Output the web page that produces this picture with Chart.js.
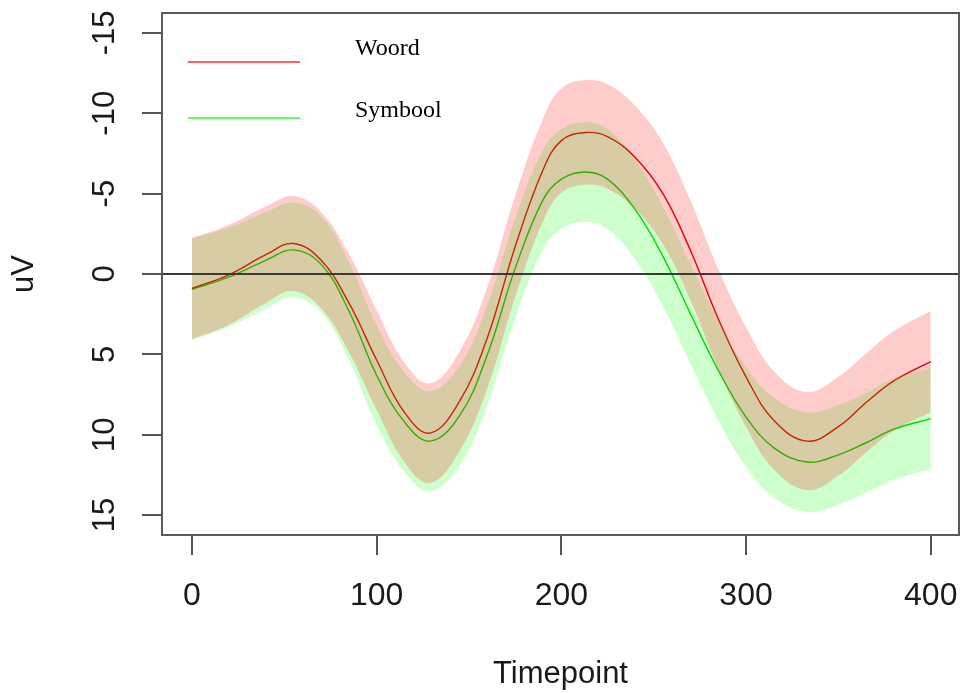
<!DOCTYPE html>
<html>
<head>
<meta charset="utf-8">
<script src="https://cdn.jsdelivr.net/npm/chart.js@4.4.0/dist/chart.umd.min.js"></script>
<style>
  body { margin: 0; background: #fff; }
  canvas { display: block; }
</style>
</head>
<body>
<canvas id="erpChart" width="960" height="693"></canvas>
<script>
// timepoints and values (uV, negative is drawn upwards)
const timepoints = [0, 20, 40, 55, 70, 85, 100, 115, 129, 145, 160, 175, 190, 200, 213, 225, 240, 255, 270, 285, 300, 315, 333, 350, 365, 380, 400];

const woord = [0.9, 0.05, -1.2, -1.9, -0.85, 1.8, 5.35, 8.6, 9.9, 7.9, 3.95, -1.7, -6.45, -8.3, -8.8, -8.55, -7.25, -5.0, -1.45, 2.8, 6.4, 9.1, 10.4, 9.5, 8.0, 6.65, 5.45];
const woordLow = [-2.25, -3.05, -4.2, -4.85, -3.85, -1.25, 2.25, 5.5, 6.8, 4.8, 0.8, -4.85, -9.65, -11.55, -12.05, -11.8, -10.45, -8.15, -4.55, -0.3, 3.3, 6.05, 7.35, 6.4, 4.95, 3.55, 2.3];
const woordHigh = [4.05, 3.15, 1.8, 1.05, 2.15, 4.85, 8.45, 11.7, 13.0, 11.0, 7.1, 1.45, -3.25, -5.05, -5.55, -5.3, -4.05, -1.85, 1.65, 5.9, 9.5, 12.15, 13.45, 12.55, 11.1, 9.75, 8.6];

const symbool = [0.95, 0.2, -0.85, -1.5, -0.6, 2.3, 6.3, 9.2, 10.4, 8.8, 5.0, -0.35, -4.6, -5.9, -6.35, -5.9, -4.0, -1.1, 2.5, 6.0, 8.9, 10.8, 11.7, 11.25, 10.5, 9.65, 9.0];
const symboolLow = [-2.2, -2.9, -3.85, -4.45, -3.6, -0.75, 3.2, 6.1, 7.3, 5.7, 1.9, -3.45, -7.7, -9.0, -9.45, -9.0, -7.1, -4.2, -0.6, 2.9, 5.8, 7.7, 8.6, 8.15, 7.4, 6.5, 5.85];
const symboolHigh = [4.1, 3.3, 2.15, 1.45, 2.4, 5.35, 9.4, 12.3, 13.5, 11.9, 8.1, 2.75, -1.5, -2.8, -3.25, -2.8, -0.9, 2.0, 5.6, 9.1, 12.0, 13.9, 14.8, 14.35, 13.6, 12.8, 12.15];

const xTicks = [0, 100, 200, 300, 400];
const yTicks = [-15, -10, -5, 0, 5, 10, 15];

const pts = arr => arr.map((v, i) => ({ x: timepoints[i], y: v }));

const band = (data, color, order) => ({
    data: pts(data),
    borderWidth: 0,
    pointRadius: 0,
    backgroundColor: color,
    tension: 0.4,
    order: order
});

// zero line, drawn over the bands like abline()
const zeroLine = {
    id: 'zeroLine',
    afterDatasetsDraw(chart) {
        const { ctx, chartArea } = chart;
        const y = chart.scales.y.getPixelForValue(0);
        ctx.save();
        ctx.strokeStyle = '#3a3a3a';
        ctx.lineWidth = 2;
        ctx.beginPath();
        ctx.moveTo(chartArea.left, y);
        ctx.lineTo(chartArea.right, y);
        ctx.stroke();
        ctx.restore();
    }
};

// box around the plot region
const frame = {
    id: 'frame',
    afterDraw(chart) {
        const { ctx, chartArea } = chart;
        ctx.save();
        ctx.strokeStyle = '#5a5a5a';
        ctx.lineWidth = 2;
        ctx.strokeRect(chartArea.left, chartArea.top, chartArea.right - chartArea.left, chartArea.bottom - chartArea.top);
        ctx.restore();
    }
};

// legend: line on the left, name further right
const lineLegend = {
    id: 'lineLegend',
    afterDraw(chart) {
        const ctx = chart.ctx;
        const items = chart.data.datasets.filter(d => d.legend);
        ctx.save();
        ctx.font = '24px "Liberation Serif", serif';
        ctx.fillStyle = '#000';
        ctx.textBaseline = 'alphabetic';
        items.forEach((d, i) => {
            const ly = 62 + i * 56;
            ctx.strokeStyle = d.legend;
            ctx.lineWidth = 1.5;
            ctx.beginPath();
            ctx.moveTo(188, ly);
            ctx.lineTo(300, ly);
            ctx.stroke();
            ctx.fillText(d.label, 355, 55 + i * 62);
        });
        ctx.restore();
    }
};

Chart.defaults.font.family = '"Liberation Sans", Arial, sans-serif';
Chart.defaults.color = '#1a1a1a';

new Chart(document.getElementById('erpChart'), {
    type: 'line',
    data: {
        datasets: [
            { label: 'Woord', legend: '#ff2a2a', data: pts(woord), borderColor: '#e00000', borderWidth: 1.4, pointRadius: 0, fill: false, tension: 0.4, order: 4 },
            { label: 'Symbool', legend: '#2aff2a', data: pts(symbool), borderColor: '#00d000', borderWidth: 1.4, pointRadius: 0, fill: false, tension: 0.4, order: 5 },
            Object.assign(band(symboolLow, 'rgba(0,0,0,0)', 3), { fill: false }),
            Object.assign(band(symboolHigh, 'rgba(0,255,0,0.2)', 3), { fill: '-1' }),
            Object.assign(band(woordLow, 'rgba(0,0,0,0)', 2), { fill: false }),
            Object.assign(band(woordHigh, 'rgba(255,0,0,0.2)', 2), { fill: '-1' })
        ]
    },
    options: {
        responsive: false,
        animation: false,
        devicePixelRatio: 1,
        layout: { padding: { top: 13, right: 1, bottom: 0, left: 0 } },
        plugins: {
            legend: { display: false },
            tooltip: { enabled: false }
        },
        scales: {
            x: {
                type: 'linear',
                min: -16.2,
                max: 415.3,
                afterBuildTicks: axis => { axis.ticks = xTicks.map(v => ({ value: v })); },
                afterFit: axis => { axis.height = 158; axis.paddingLeft = 0; axis.paddingRight = 0; },
                border: { display: false },
                grid: { drawOnChartArea: false, tickLength: 20, tickColor: '#555', lineWidth: 2 },
                ticks: { font: { size: 32 }, padding: 22, maxRotation: 0 },
                title: { display: true, text: 'Timepoint', font: { size: 31 }, padding: { top: 0, bottom: 0 } }
            },
            y: {
                type: 'linear',
                reverse: true,
                min: -16.24,
                max: 16.24,
                afterBuildTicks: axis => { axis.ticks = yTicks.map(v => ({ value: v })); },
                afterFit: axis => { axis.width = 162; axis.paddingTop = 0; axis.paddingBottom = 0; },
                border: { display: false },
                grid: { drawOnChartArea: false, tickLength: 20, tickColor: '#555', lineWidth: 2 },
                ticks: { font: { size: 31 }, padding: 14, minRotation: 90, maxRotation: 90, crossAlign: 'center' },
                title: { display: true, text: 'uV', font: { size: 31 }, padding: { top: 6, bottom: 0 } }
            }
        }
    },
    plugins: [zeroLine, frame, lineLegend]
});
</script>
</body>
</html>
